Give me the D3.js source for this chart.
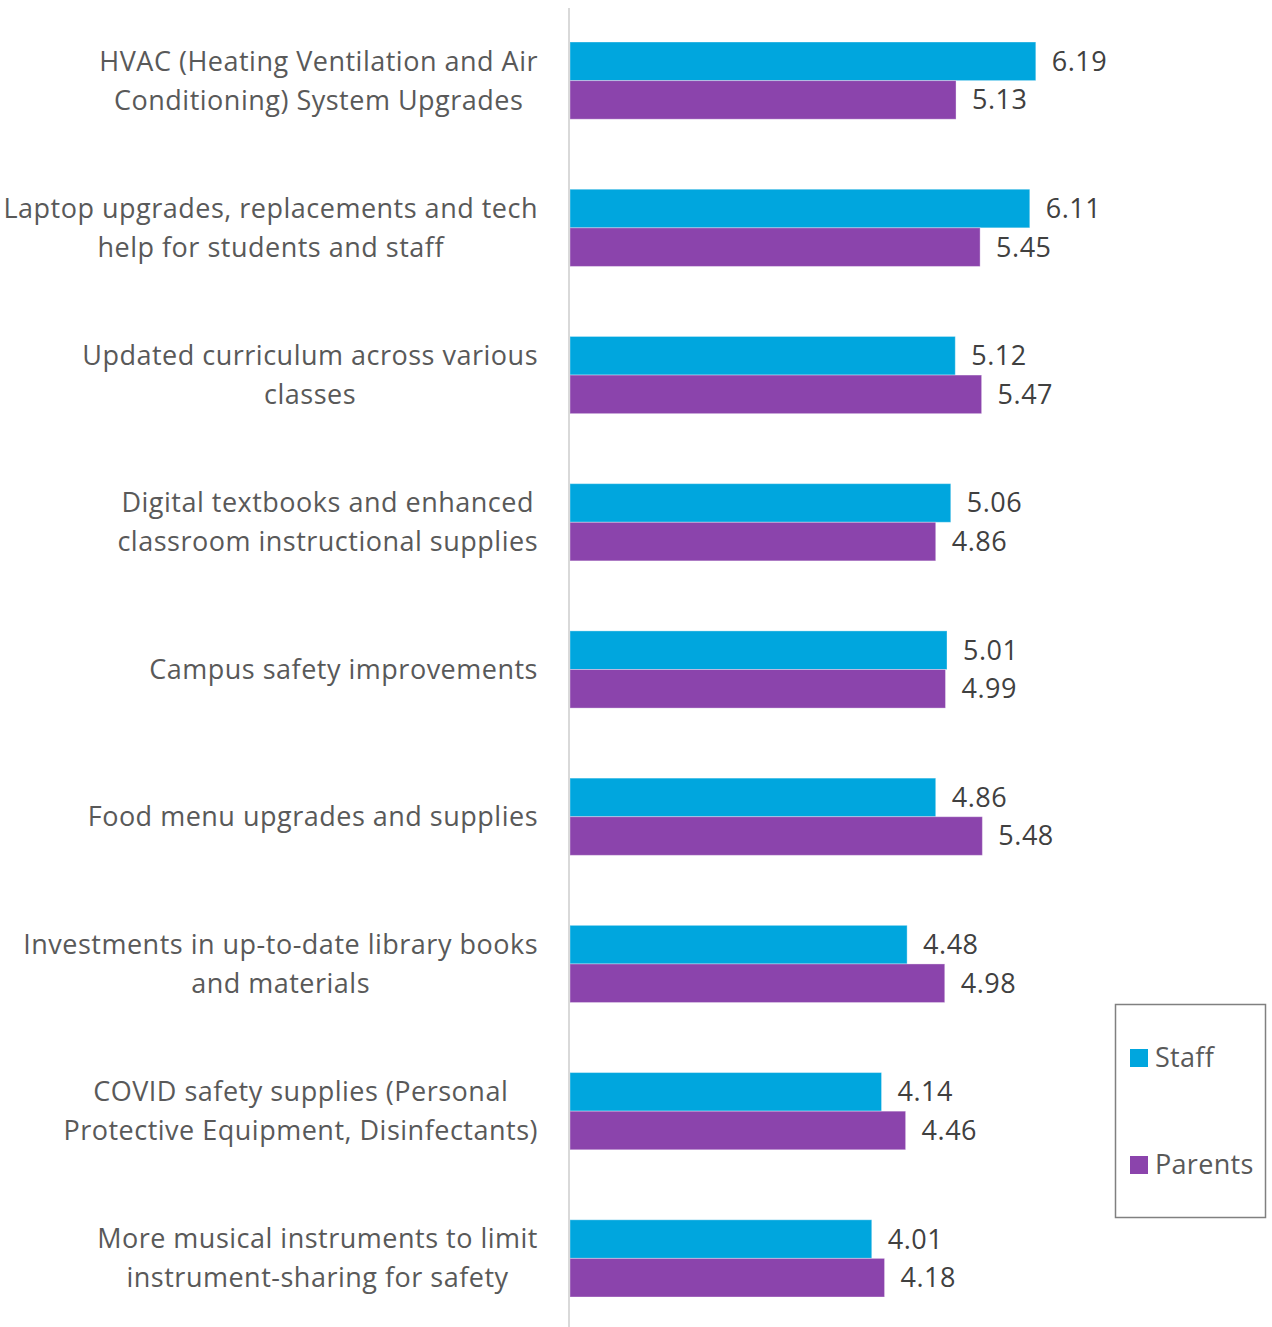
<!DOCTYPE html>
<html>
<head>
<meta charset="utf-8">
<script src="https://cdn.jsdelivr.net/npm/d3@7"></script>
<style>
  html, body { margin: 0; padding: 0; background: #fff; }
  svg { display: block; font-family: "Open Sans", "Noto Sans", sans-serif; }
</style>
</head>
<body>
<svg id="chart" width="1272" height="1327"></svg>
<script>
// Category labels, each split into its displayed lines
const categories = [
  ["HVAC (Heating Ventilation and Air", "Conditioning) System Upgrades"],
  ["Laptop upgrades, replacements and tech", "help for students and staff"],
  ["Updated curriculum across various", "classes"],
  ["Digital textbooks and enhanced", "classroom instructional supplies"],
  ["Campus safety improvements"],
  ["Food menu upgrades and supplies"],
  ["Investments in up-to-date library books", "and materials"],
  ["COVID safety supplies (Personal", "Protective Equipment, Disinfectants)"],
  ["More musical instruments to limit", "instrument-sharing for safety"]
];
const seriesNames = ["Staff", "Parents"];
const staffValues   = [6.19, 6.11, 5.12, 5.06, 5.01, 4.86, 4.48, 4.14, 4.01];
const parentsValues = [5.13, 5.45, 5.47, 4.86, 4.99, 5.48, 4.98, 4.46, 4.18];
const seriesColors = ["#00A6DE", "#8B44AC"];

const svg = d3.select("#chart");
const ids = categories.map((c, i) => i);

const y = d3.scaleBand().domain(ids).range([7, 1332]).padding(0);
const ySub = d3.scaleBand().domain(seriesNames).range([0, y.bandwidth()])
  .paddingInner(0).paddingOuter(0.907);
const x = d3.scaleLinear().domain([0, 7]).range([570, 1096.75]);

const rows = ids.map(i => ({
  i,
  values: [
    { name: "Staff", value: staffValues[i] },
    { name: "Parents", value: parentsValues[i] }
  ]
}));
const color = d3.scaleOrdinal().domain(seriesNames).range(seriesColors);

// Bars
const groups = svg.append("g").selectAll("g").data(rows).join("g")
  .attr("transform", d => `translate(0,${y(d.i)})`);

groups.selectAll("rect").data(d => d.values).join("rect")
  .attr("x", x(0))
  .attr("y", d => ySub(d.name))
  .attr("width", d => x(d.value) - x(0))
  .attr("height", ySub.bandwidth())
  .attr("fill", d => color(d.name))
  .attr("stroke", "#ffffff")
  .attr("stroke-opacity", 0.35)
  .attr("stroke-width", 1);

// Value labels
groups.selectAll("text.val").data(d => d.values).join("text")
  .attr("class", "val")
  .attr("x", d => x(d.value) + 16)
  .attr("y", d => ySub(d.name) + ySub.bandwidth() / 2)
  .attr("dy", "0.35em")
  .attr("font-size", 27)
  .attr("letter-spacing", 0.5)
  .attr("fill", "#404040")
  .text(d => d.value.toFixed(2));

// Vertical category axis line
svg.append("line")
  .attr("x1", 569).attr("x2", 569)
  .attr("y1", 8).attr("y2", 1327)
  .attr("stroke", "#d9d9d9").attr("stroke-width", 2);

// Category labels: lines centered within a right-aligned block
const labelRight = 538;
const lineGap = 39;
const labels = svg.append("g");
rows.forEach(d => {
  const lines = categories[d.i];
  const cy = y(d.i) + y.bandwidth() / 2;
  const t = labels.append("text")
    .attr("font-size", 27)
    .attr("letter-spacing", 0.5)
    .attr("fill", "#595959")
    .attr("text-anchor", "middle");
  const spans = lines.map((ln, k) => t.append("tspan")
    .attr("y", cy + (k - (lines.length - 1) / 2) * lineGap)
    .attr("dy", "0.35em")
    .text(ln));
  const w = d3.max(spans, s => s.node().getComputedTextLength());
  spans.forEach(s => s.attr("x", labelRight - w / 2));
});

// Legend
const legend = svg.append("g");
legend.append("rect")
  .attr("x", 1115.5).attr("y", 1004.5)
  .attr("width", 150).attr("height", 213)
  .attr("fill", "#fff").attr("stroke", "#808080").attr("stroke-width", 1.5);
const legendY = d3.scalePoint().domain(seriesNames).range([1058, 1165]);
seriesNames.forEach(name => {
  legend.append("rect")
    .attr("x", 1130).attr("y", legendY(name) - 9)
    .attr("width", 18).attr("height", 18)
    .attr("fill", color(name));
  legend.append("text")
    .attr("x", 1155).attr("y", legendY(name))
    .attr("dy", "0.35em")
    .attr("font-size", 27)
    .attr("letter-spacing", 0.3)
    .attr("fill", "#595959")
    .text(name);
});
</script>
</body>
</html>
